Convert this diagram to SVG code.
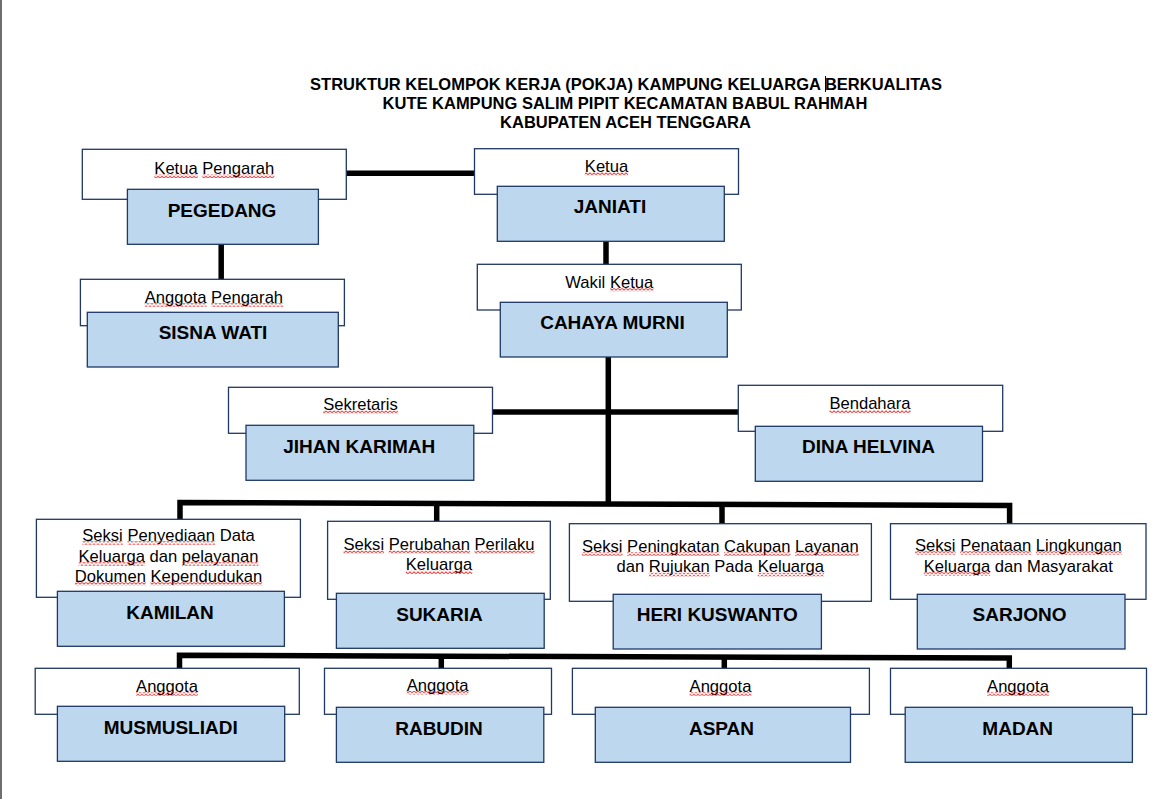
<svg xmlns="http://www.w3.org/2000/svg" width="1169" height="799" viewBox="0 0 1169 799">
<style>
text{font-family:"Liberation Sans",Arial,sans-serif;fill:#000}
.title{font-size:16.5px;font-weight:bold;text-anchor:middle}
.lbl{font-size:16.6px;text-anchor:middle}
.nm{font-size:19px;font-weight:bold;text-anchor:middle}
.lb{fill:#fff;stroke:#1f3864;stroke-width:1.3}
.nb{fill:#bdd7ee;stroke:#1f3864;stroke-width:1.3}
.sq{fill:url(#wave)}
.cn{fill:none;stroke:#000;stroke-width:5.5;stroke-linejoin:miter;stroke-linecap:butt}
</style>
<defs>
<pattern id="wave" patternUnits="userSpaceOnUse" x="0" y="0.5" width="4" height="3.5">
<path d="M-1,1.75 L0,2.75 L2,0.75 L4,2.75 L5,1.75" fill="none" stroke="#e01010" stroke-width="0.9"/>
</pattern>
</defs>
<rect x="0" y="0" width="1169" height="799" fill="#fff"/>
<rect x="0" y="0" width="2" height="799" fill="#6e6e6e"/>
<g id="title">
<text class="title" x="626" y="90">STRUKTUR KELOMPOK KERJA (POKJA) KAMPUNG KELUARGA BERKUALITAS</text>
<text class="title" x="625" y="109.3">KUTE KAMPUNG SALIM PIPIT KECAMATAN BABUL RAHMAH</text>
<text class="title" x="625.5" y="128.3">KABUPATEN ACEH TENGGARA</text>
<line x1="825.5" y1="76" x2="825.5" y2="92" stroke="#000" stroke-width="1"/>
</g>
<g id="connectors">
<path class="cn" d="M345.6,173.3 H474"/>
<path class="cn" d="M221.2,244 V279.5"/>
<path class="cn" d="M606,241 V264.5"/>
<path class="cn" d="M608.3,357 V503.5"/>
<path class="cn" d="M492.5,412 H738.3"/>
<path class="cn" d="M180,519.5 V502.5 L1009.6,505.5 V523.8"/>
<path class="cn" d="M436.7,503.4 V521.5"/>
<path class="cn" d="M722,504.6 V523.8"/>
<path class="cn" d="M179.5,668.5 V655.3 L1009.3,658 V668.5"/>
<path class="cn" d="M441.3,656.2 V668.5"/>
<path class="cn" d="M724.3,657.2 V668.5"/>
</g>
<g id="ketua-pengarah">
<rect class="lb" x="82.3" y="149.3" width="264" height="50"/>
<rect class="nb" x="127.4" y="189.3" width="191" height="55"/>
<text class="lbl" x="214.3" y="174">Ketua Pengarah</text>
<rect class="sq" x="154.3" y="174.5" width="43.4" height="3.5"/>
<rect class="sq" x="202.3" y="174.5" width="72" height="3.5"/>
<text class="nm" x="222" y="216.7">PEGEDANG</text>
</g>
<g id="ketua">
<rect class="lb" x="474.5" y="148.7" width="264" height="45.6"/>
<rect class="nb" x="497.3" y="186.3" width="227" height="55"/>
<text class="lbl" x="606.5" y="171.7">Ketua</text>
<rect class="sq" x="584.8" y="172.2" width="43.4" height="3.5"/>
<text class="nm" x="610" y="213.3">JANIATI</text>
</g>
<g id="anggota-pengarah">
<rect class="lb" x="80.4" y="279.3" width="264" height="46.4"/>
<rect class="nb" x="87.3" y="312.3" width="251" height="54.7"/>
<text class="lbl" x="213.9" y="302.7">Anggota Pengarah</text>
<rect class="sq" x="144.7" y="303.2" width="61.8" height="3.5"/>
<rect class="sq" x="211.1" y="303.2" width="72" height="3.5"/>
<text class="nm" x="213" y="339.3">SISNA WATI</text>
</g>
<g id="wakil-ketua">
<rect class="lb" x="477.3" y="264.3" width="264" height="45.7"/>
<rect class="nb" x="500.3" y="302.3" width="227" height="54.7"/>
<text class="lbl" x="609.3" y="287.7">Wakil Ketua</text>
<rect class="sq" x="610.2" y="288.2" width="43.4" height="3.5"/>
<text class="nm" x="612.5" y="329.3">CAHAYA MURNI</text>
</g>
<g id="sekretaris">
<rect class="lb" x="228.5" y="387.3" width="264" height="46"/>
<rect class="nb" x="246" y="425.3" width="227.8" height="55"/>
<text class="lbl" x="360.5" y="410">Sekretaris</text>
<rect class="sq" x="323.1" y="410.5" width="74.8" height="3.5"/>
<text class="nm" x="359.2" y="452.7">JIHAN KARIMAH</text>
</g>
<g id="bendahara">
<rect class="lb" x="738.3" y="385.3" width="264.4" height="46"/>
<rect class="nb" x="755.3" y="426.3" width="227.2" height="55"/>
<text class="lbl" x="870" y="409.3">Bendahara</text>
<rect class="sq" x="829.4" y="409.8" width="81.2" height="3.5"/>
<text class="nm" x="868.5" y="453.3">DINA HELVINA</text>
</g>
<g id="seksi-penyediaan">
<rect class="lb" x="36.4" y="519.3" width="264" height="78"/>
<rect class="nb" x="57.4" y="591.3" width="227" height="55"/>
<text class="lbl" x="168.5" y="540.7">Seksi Penyediaan Data</text>
<text class="lbl" x="168.5" y="561.7">Keluarga dan pelayanan</text>
<text class="lbl" x="168.5" y="581.7">Dokumen Kependudukan</text>
<rect class="sq" x="82.3" y="541.2" width="40.6" height="3.5"/>
<rect class="sq" x="127.5" y="541.2" width="87.7" height="3.5"/>
<rect class="sq" x="78.6" y="562.2" width="66.4" height="3.5"/>
<rect class="sq" x="181.9" y="562.2" width="76.6" height="3.5"/>
<rect class="sq" x="74.9" y="582.2" width="71" height="3.5"/>
<rect class="sq" x="150.5" y="582.2" width="111.7" height="3.5"/>
<text class="nm" x="170" y="619">KAMILAN</text>
</g>
<g id="seksi-perubahan">
<rect class="lb" x="327.6" y="521.3" width="222.7" height="78"/>
<rect class="nb" x="336.4" y="593.3" width="207.8" height="55"/>
<text class="lbl" x="439" y="550">Seksi Perubahan Perilaku</text>
<text class="lbl" x="439" y="570">Keluarga</text>
<rect class="sq" x="343.5" y="550.5" width="40.6" height="3.5"/>
<rect class="sq" x="388.7" y="550.5" width="81.2" height="3.5"/>
<rect class="sq" x="474.5" y="550.5" width="60" height="3.5"/>
<rect class="sq" x="405.8" y="570.5" width="66.4" height="3.5"/>
<text class="nm" x="439.5" y="620.7">SUKARIA</text>
</g>
<g id="seksi-peningkatan">
<rect class="lb" x="569.4" y="523.7" width="302" height="77.6"/>
<rect class="nb" x="613.2" y="594.3" width="208.2" height="54.7"/>
<text class="lbl" x="720.3" y="551.7">Seksi Peningkatan Cakupan Layanan</text>
<text class="lbl" x="720.3" y="572.3">dan Rujukan Pada Keluarga</text>
<rect class="sq" x="581.9" y="552.2" width="40.6" height="3.5"/>
<rect class="sq" x="627.1" y="552.2" width="92.3" height="3.5"/>
<rect class="sq" x="724" y="552.2" width="66.4" height="3.5"/>
<rect class="sq" x="795" y="552.2" width="63.7" height="3.5"/>
<rect class="sq" x="648.8" y="572.8" width="60.9" height="3.5"/>
<rect class="sq" x="757.7" y="572.8" width="66.4" height="3.5"/>
<text class="nm" x="717.3" y="620.7">HERI KUSWANTO</text>
</g>
<g id="seksi-penataan">
<rect class="lb" x="890.5" y="523.7" width="255.5" height="75.6"/>
<rect class="nb" x="917.3" y="594.3" width="207.7" height="54.7"/>
<text class="lbl" x="1018.3" y="550.7">Seksi Penataan Lingkungan</text>
<text class="lbl" x="1018.3" y="571.7">Keluarga dan Masyarakat</text>
<rect class="sq" x="915" y="551.2" width="40.6" height="3.5"/>
<rect class="sq" x="960.2" y="551.2" width="71.1" height="3.5"/>
<rect class="sq" x="1035.9" y="551.2" width="85.8" height="3.5"/>
<rect class="sq" x="923.8" y="572.2" width="66.4" height="3.5"/>
<text class="nm" x="1019.6" y="620.7">SARJONO</text>
</g>
<g id="anggota-1">
<rect class="lb" x="35.2" y="668.3" width="264.1" height="46"/>
<rect class="nb" x="57.4" y="706.3" width="227.3" height="55"/>
<text class="lbl" x="167" y="691.7">Anggota</text>
<rect class="sq" x="136.1" y="692.2" width="61.8" height="3.5"/>
<text class="nm" x="170.7" y="734">MUSMUSLIADI</text>
</g>
<g id="anggota-2">
<rect class="lb" x="324.5" y="668.3" width="227" height="46"/>
<rect class="nb" x="336.4" y="707.3" width="207.4" height="55"/>
<text class="lbl" x="437.6" y="690.5">Anggota</text>
<rect class="sq" x="406.7" y="691" width="61.8" height="3.5"/>
<text class="nm" x="439" y="735">RABUDIN</text>
</g>
<g id="anggota-3">
<rect class="lb" x="572.4" y="668.3" width="297" height="46"/>
<rect class="nb" x="595.3" y="707.3" width="255.2" height="55"/>
<text class="lbl" x="720.5" y="691.7">Anggota</text>
<rect class="sq" x="689.6" y="692.2" width="61.8" height="3.5"/>
<text class="nm" x="721.5" y="735">ASPAN</text>
</g>
<g id="anggota-4">
<rect class="lb" x="890.5" y="668.3" width="256" height="46"/>
<rect class="nb" x="905.2" y="707.3" width="227.2" height="55"/>
<text class="lbl" x="1018" y="691.7">Anggota</text>
<rect class="sq" x="987.1" y="692.2" width="61.8" height="3.5"/>
<text class="nm" x="1017.7" y="735">MADAN</text>
</g>
</svg>
